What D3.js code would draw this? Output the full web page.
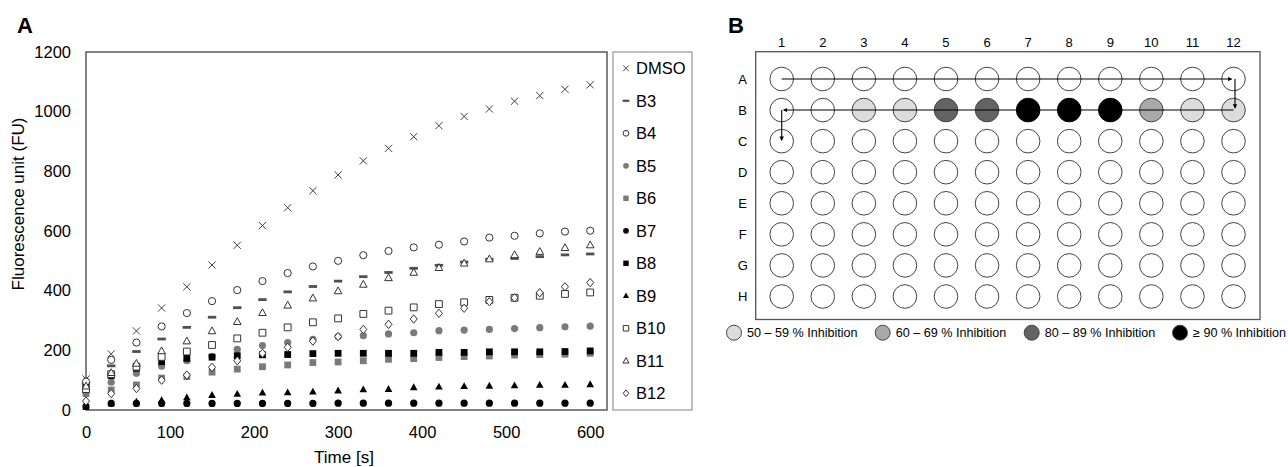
<!DOCTYPE html>
<html><head><meta charset="utf-8">
<script src="https://cdn.jsdelivr.net/npm/d3@7"></script>
<style>
body{margin:0;background:#fff}
svg{display:block}
text{font-family:"Liberation Sans",Arial,Helvetica,sans-serif;fill:#000}
</style>
</head><body>
<svg id="c" width="1288" height="467"></svg>
<script>
// ---------- DATA ----------
const times = [0,30,60,90,120,150,180,210,240,270,300,330,360,390,420,450,480,510,540,570,600];
const seriesNames = ["DMSO","B3","B4","B5","B6","B7","B8","B9","B10","B11","B12"];
const DMSO = [104,188,265,342,413,486,552,618,678,735,788,835,877,916,953,984,1009,1035,1054,1075,1090];
const B3  = [90,148,196,238,277,311,343,370,396,414,432,447,461,475,485,496,505,508,514,520,523];
const B4  = [95,168,226,280,325,365,402,432,459,481,500,519,533,545,554,565,578,584,592,598,601];
const B5  = [60,93,123,147,165,180,203,216,226,237,246,249,255,259,266,268,270,273,276,279,281];
const B6  = [55,67,84,107,112,127,137,145,151,159,161,165,170,172,176,179,181,184,186,187,190];
const B7  = [12,22,22,22,22,22,22,22,22,22,23,23,23,23,23,23,23,23,23,23,23];
const B8  = [75,115,140,162,173,177,182,185,186,189,190,190,190,190,193,193,195,195,195,196,198];
const B9  = [10,22,28,33,42,50,54,58,59,61,65,69,70,76,78,80,81,82,84,84,86];
const B10 = [70,120,145,178,196,218,240,259,277,294,307,322,333,344,355,361,369,376,383,389,394];
const B11 = [80,125,156,198,231,265,296,326,351,375,399,421,443,461,477,492,506,520,531,544,553];
const B12 = [30,55,72,100,117,143,165,190,210,231,246,270,287,305,324,341,363,376,393,413,427];
const seriesValues = [DMSO,B3,B4,B5,B6,B7,B8,B9,B10,B11,B12];
const yTicks = [0,200,400,600,800,1000,1200];
const xTicks = [0,100,200,300,400,500,600];

const plateCols = ["1","2","3","4","5","6","7","8","9","10","11","12"];
const plateRows = ["A","B","C","D","E","F","G","H"];
const inhibitionClasses = ["50 – 59 % Inhibition","60 – 69 % Inhibition","80 – 89 % Inhibition","≥ 90 % Inhibition"];
// well -> inhibition class index
const wellClass = {"B3":0,"B4":0,"B5":2,"B6":2,"B7":3,"B8":3,"B9":3,"B10":1,"B11":0,"B12":0};

// ---------- STYLE ----------
const classFill = ["#dcdcdc","#a9a9a9","#636363","#000000"];
const markerStyle = {
  DMSO:{shape:"cross",   fill:"none",  stroke:"#404040"},
  B3:  {shape:"dash",    fill:"#505050",stroke:"none"},
  B4:  {shape:"circle",  fill:"#fff",  stroke:"#333"},
  B5:  {shape:"circle",  fill:"#7a7a7a",stroke:"none"},
  B6:  {shape:"square",  fill:"#7a7a7a",stroke:"none"},
  B7:  {shape:"circle",  fill:"#000",  stroke:"none"},
  B8:  {shape:"square",  fill:"#000",  stroke:"none"},
  B9:  {shape:"triangle",fill:"#000",  stroke:"none"},
  B10: {shape:"square",  fill:"#fff",  stroke:"#333"},
  B11: {shape:"triangle",fill:"#fff",  stroke:"#333"},
  B12: {shape:"diamond", fill:"#fff",  stroke:"#333"}
};
function shapePath(shape, k){
  const s = k;
  switch(shape){
    case "cross": { const a=3.6*s; return `M${-a},${-a}L${a},${a}M${-a},${a}L${a},${-a}`; }
    case "dash": { const w=4.2*s,h=1.4*s; return `M${-w},${-h}H${w}V${h}H${-w}Z`; }
    case "circle": { const r=3.6*s; return `M${r},0A${r},${r},0,1,1,${-r},0A${r},${r},0,1,1,${r},0Z`; }
    case "square": { const a=3.4*s; return `M${-a},${-a}H${a}V${a}H${-a}Z`; }
    case "triangle": { const a=4*s; return `M0,${-a}L${a*0.95},${a*0.7}L${-a*0.95},${a*0.7}Z`; }
    case "diamond": { const w=3.5*s,h=4.2*s; return `M0,${-h}L${w},0L0,${h}L${-w},0Z`; }
  }
}

const svg = d3.select("#c");

// ---------- PANEL A ----------
const x = d3.scaleLinear().domain([0,620]).range([86,607]);
const y = d3.scaleLinear().domain([0,1200]).range([410,52]);

svg.append("text").attr("x",17).attr("y",33).attr("font-size",22).attr("font-weight","bold").text("A");

const gy = svg.append("g").attr("transform",`translate(${x(0)},0)`)
  .call(d3.axisLeft(y).tickValues(yTicks).tickFormat(d3.format("d")).tickSize(0).tickPadding(15));
gy.select(".domain").remove();
gy.selectAll("text").attr("font-size",16.5).attr("font-family",null).attr("fill","#000");

const gx = svg.append("g").attr("transform",`translate(0,${y(0)})`)
  .call(d3.axisBottom(x).tickValues(xTicks).tickFormat(d3.format("d")).tickSize(0).tickPadding(16));
gx.select(".domain").remove();
gx.selectAll("text").attr("font-size",16.5).attr("font-family",null).attr("fill","#000");

svg.append("text").attr("transform",`translate(24,204) rotate(-90)`)
  .attr("text-anchor","middle").attr("font-size",17).text("Fluorescence unit (FU)");
svg.append("text").attr("x",344).attr("y",463).attr("text-anchor","middle")
  .attr("font-size",17).text("Time [s]");

// plot frame
svg.append("rect").attr("x",x(0)).attr("y",y(1200))
  .attr("width",x.range()[1]-x(0)).attr("height",y(0)-y(1200))
  .attr("fill","none").attr("stroke","#404040").attr("stroke-width",1.3);

seriesNames.forEach((name,i)=>{
  const st = markerStyle[name];
  svg.append("g").selectAll("path").data(times.map((t,j)=>({t,v:seriesValues[i][j]})))
    .join("path")
    .attr("transform",d=>`translate(${x(d.t)},${y(d.v)})`)
    .attr("d",shapePath(st.shape,1))
    .attr("fill",st.fill).attr("stroke",st.stroke).attr("stroke-width",1);
});

// legend
const legX = 613, legTop = 52, legBottom = 410, legW = 79;
svg.append("rect").attr("x",legX).attr("y",legTop).attr("width",legW).attr("height",legBottom-legTop)
  .attr("fill","#fff").attr("stroke","#808080").attr("stroke-width",1);
const legY = d3.scalePoint().domain(seriesNames).range([68.3,393.3]);
const lg = svg.append("g").selectAll("g").data(seriesNames).join("g")
  .attr("transform",d=>`translate(${legX+13},${legY(d)})`);
lg.append("path").attr("d",d=>shapePath(markerStyle[d].shape,0.8))
  .attr("fill",d=>markerStyle[d].fill).attr("stroke",d=>markerStyle[d].stroke).attr("stroke-width",1);
lg.append("text").attr("x",10).attr("y",6).attr("font-size",16.5).text(d=>d);

// ---------- PANEL B ----------
svg.append("text").attr("x",728).attr("y",33).attr("font-size",22).attr("font-weight","bold").text("B");

const col = d3.scalePoint().domain(plateCols).range([781.7,1233.5]);
const row = d3.scalePoint().domain(plateRows).range([79,296.5]);
const wellR = 11.8;

svg.append("rect").attr("x",755.7).attr("y",51.7).attr("width",1260-755.7).attr("height",319.5-51.7)
  .attr("fill","#fff").attr("stroke","#555").attr("stroke-width",1.3);

svg.append("g").selectAll("text").data(plateCols).join("text")
  .attr("x",d=>col(d)).attr("y",46.5).attr("text-anchor","middle").attr("font-size",13).text(d=>d);
svg.append("g").selectAll("text").data(plateRows).join("text")
  .attr("x",742.7).attr("y",d=>row(d)+4.7).attr("text-anchor","middle").attr("font-size",13).text(d=>d);

const wells = [];
plateRows.forEach(r=>plateCols.forEach(c=>wells.push({r,c,id:r+c})));
svg.append("g").selectAll("circle").data(wells).join("circle")
  .attr("cx",d=>col(d.c)).attr("cy",d=>row(d.r)).attr("r",wellR)
  .attr("fill",d=>wellClass[d.id]!==undefined?classFill[wellClass[d.id]]:"#fff")
  .attr("stroke",d=>wellClass[d.id]===3?"#000":"#444").attr("stroke-width",1);

// arrows
const defs = svg.append("defs");
defs.append("marker").attr("id","ah").attr("viewBox","0 0 6 6").attr("refX",5).attr("refY",3)
  .attr("markerWidth",4.5).attr("markerHeight",4.5).attr("markerUnits","userSpaceOnUse").attr("orient","auto")
  .append("path").attr("d","M0,0L6,3L0,6Z").attr("fill","#000");
const route = [
  [["1","A"],["12","A"]],
  [["12","A"],["12","B"]],
  [["12","B"],["1","B"]],
  [["1","B"],["1","C"]]
];
svg.append("g").selectAll("line").data(route).join("line")
  .attr("x1",(d,i)=>col(d[0][0])+(i===1?1.5:0))
  .attr("y1",d=>row(d[0][1]))
  .attr("x2",(d,i)=>col(d[1][0])+(i===1?1.5:i===2?2:i===0?-2:0))
  .attr("y2",(d,i)=>row(d[1][1])+(i===1?-2:i===3?-1:0))
  .attr("stroke","#000").attr("stroke-width",1.1).attr("marker-end","url(#ah)");

// plate legend
const legItemX = [734,882.7,1031.7,1180];
const pl = svg.append("g").selectAll("g").data(inhibitionClasses).join("g")
  .attr("transform",(d,i)=>`translate(${legItemX[i]},332.7)`);
pl.append("circle").attr("r",7.5).attr("fill",(d,i)=>classFill[i]).attr("stroke","#444").attr("stroke-width",1);
pl.append("text").attr("x",13).attr("y",4.6).attr("font-size",12.6).text(d=>d);
</script>
</body></html>
